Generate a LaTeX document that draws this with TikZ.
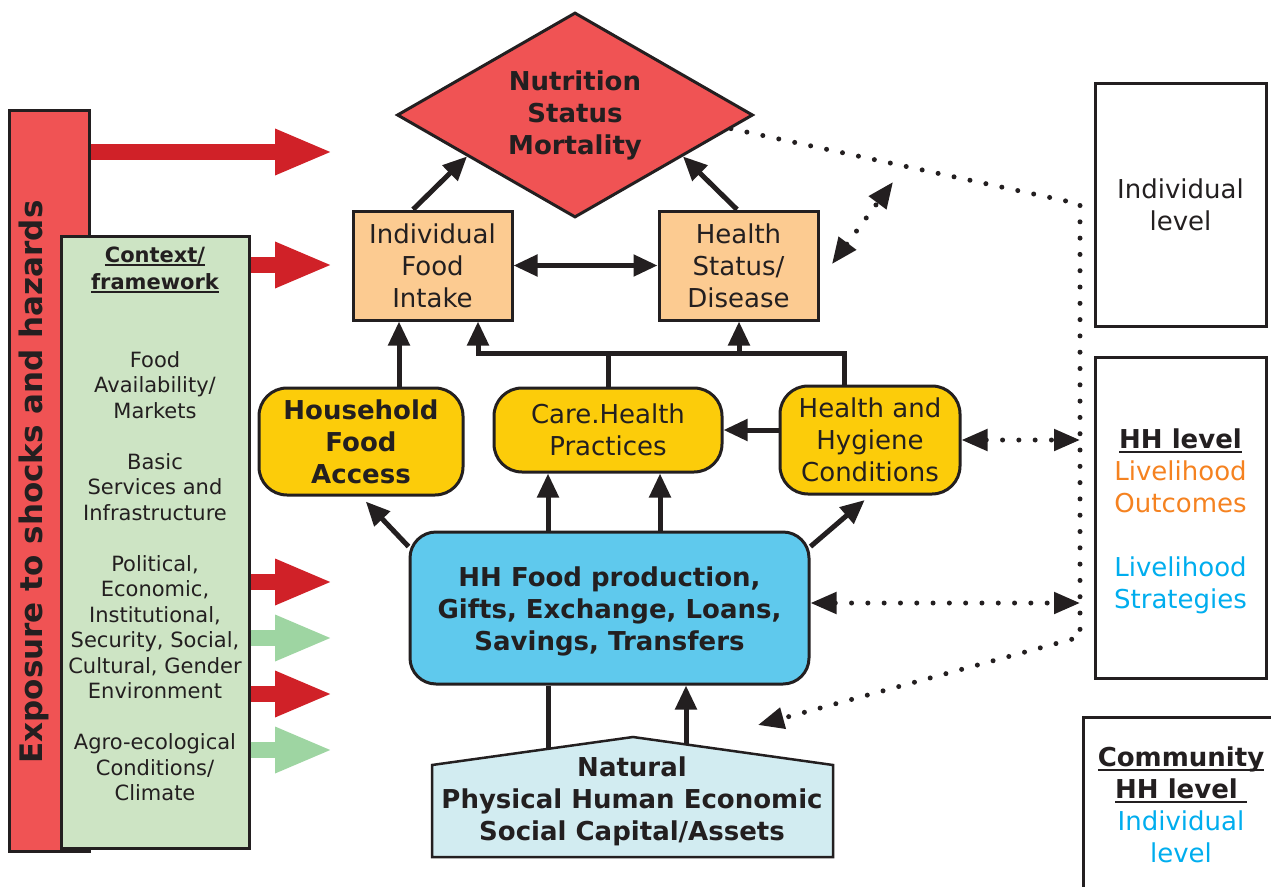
\documentclass[tikz,border=0pt]{standalone}
\usepackage{fontspec}
\setmainfont{DejaVu Sans}
\usetikzlibrary{arrows.meta,shapes.geometric}

\definecolor{ink}{RGB}{35,31,32}
\definecolor{redbox}{RGB}{240,83,84}
\definecolor{redarr}{RGB}{208,33,40}
\definecolor{grnbox}{RGB}{205,228,196}
\definecolor{grnarr}{RGB}{158,213,162}
\definecolor{orng}{RGB}{252,203,145}
\definecolor{yel}{RGB}{252,204,10}
\definecolor{bluebox}{RGB}{95,201,237}
\definecolor{capbox}{RGB}{210,236,241}
\definecolor{txtor}{RGB}{245,130,32}
\definecolor{txtbl}{RGB}{0,173,238}

\newcommand\bigtxt{\fontsize{26}{32}\selectfont}
\newcommand\smalltxt{\fontsize{21}{25.5}\selectfont}
\newcommand\ulinetext[1]{\setbox0=\hbox{#1}\rlap{\rule[-4pt]{\wd0}{2pt}}\box0}

\begin{document}
\begin{tikzpicture}[x=1pt,y=-1pt]

    \tikzset{
      box/.style={
        draw=ink,
        line width=3pt,
        align=center,
        text=ink,
        inner sep=0pt,
        font=\bigtxt,
      },
      yellowbox/.style={box, fill=yel, rounded corners=28pt},
      arr/.style={draw=ink, line width=5pt, -{Triangle[length=24pt,width=21pt]}},
      arrboth/.style={draw=ink, line width=5pt, {Triangle[length=24pt,width=21pt]}-{Triangle[length=24pt,width=21pt]}},
      plain/.style={draw=ink, line width=5pt},
      dotline/.style={draw=ink, line width=5pt, line cap=round, dash pattern=on 0pt off 16.3pt},
      bigarr/.style={line width=16pt, -{Triangle[length=58pt,width=42pt]}},
    }
    \useasboundingbox (0,0) rectangle (1271,886);
    \clip (0,0) rectangle (1271,886);

    % context and shocks
    \node[box, fill=redbox, minimum width=80pt, minimum height=741pt] (expo) at (49,480.5) {};
    \node[rotate=90, text=ink, font=\fontsize{31}{36}\selectfont\bfseries] (expotxt) at (34,482) {Exposure to shocks and hazards};
    \node[box, fill=grnbox, minimum width=188pt, minimum height=612pt] (ctx) at (155,542) {};
    \node[text=ink, align=center, font=\fontsize{21}{27}\selectfont\bfseries] (ctxhead) at (155,270) {\ulinetext{Context/}\\\ulinetext{framework}};
    \node[text=ink, align=center, font=\smalltxt] (ctxlist) at (155,576) {Food\\Availability/\\Markets\\[25.5pt]Basic\\Services and\\Infrastructure\\[25.5pt]Political,\\Economic,\\Institutional,\\Security, Social,\\Cultural, Gender\\Environment\\[25.5pt]Agro-ecological\\Conditions/\\Climate};

    \coordinate (a1) at (333,152);
    \coordinate (a2) at (333,265);
    \coordinate (a3) at (333,582);
    \coordinate (a4) at (333,638);
    \coordinate (a5) at (333,694);
    \coordinate (a6) at (333,750);
    \draw[bigarr, color=redarr] (expo.east |- a1) -- (a1);
    \draw[bigarr, color=redarr] (ctx.east |- a2) -- (a2);
    \draw[bigarr, color=redarr] (ctx.east |- a3) -- (a3);
    \draw[bigarr, color=grnarr] (ctx.east |- a4) -- (a4);
    \draw[bigarr, color=redarr] (ctx.east |- a5) -- (a5);
    \draw[bigarr, color=grnarr] (ctx.east |- a6) -- (a6);

    % outcomes
    \node[diamond, aspect=1.74, draw=ink, line width=3pt, fill=redbox, minimum width=356pt, minimum height=205pt, inner sep=0pt, align=center, text=ink, font=\bigtxt\bfseries] (dia) at (575,115) {Nutrition\\Status\\Mortality};
    \node[box, fill=orng, minimum width=159pt, minimum height=109pt] (ifi) at (432.5,265.5) {Individual\\Food\\Intake};
    \node[box, fill=orng, minimum width=159pt, minimum height=109pt] (hsd) at (738.5,265.5) {Health\\Status/\\Disease};

    \node[yellowbox, minimum width=204pt, minimum height=107pt, font=\bigtxt\bfseries] (hfa) at (361,441.5) {Household\\Food\\Access};
    \node[yellowbox, minimum width=228pt, minimum height=84pt] (care) at (608,430) {Care.Health\\Practices};
    \node[yellowbox, minimum width=180pt, minimum height=108pt] (hhc) at (870,440) {Health and\\Hygiene\\Conditions};

    \node[box, fill=bluebox, rounded corners=26pt, minimum width=399pt, minimum height=152pt] (hhf) at (609.5,608) {};
    \node[text=ink, align=center, font=\bigtxt\bfseries] (hhftxt) at (609.5,611) {HH Food production,\\Gifts, Exchange, Loans,\\Savings, Transfers};

    \draw[draw=ink, line width=2.5pt, fill=capbox] (432,857) -- (432,765) -- (633,737) -- (833,765) -- (833,857) -- cycle;
    \node[text=ink, align=center, font=\bigtxt\bfseries] (cap) at (632,801) {Natural\\Physical Human Economic\\Social Capital/Assets};
    \coordinate (roofL) at (548,749);
    \coordinate (roofR) at (686,744.5);

    % levels
    \node[box, minimum width=171pt, minimum height=243pt] (indlvl) at (1180.5,204.5) {Individual\\level};
    \node[box, minimum width=171pt, minimum height=321pt] (hhlvl) at (1180.5,517.5) {};
    \node[text=ink, align=center, font=\bigtxt] (hhtxt) at (1180.5,521.5) {\textbf{\ulinetext{HH level}}\\\textcolor{txtor}{Livelihood}\\\textcolor{txtor}{Outcomes}\\[32pt]\textcolor{txtbl}{Livelihood}\\\textcolor{txtbl}{Strategies}};
    \draw[draw=ink, line width=3pt] (1083,717) rectangle (1300,920);
    \node[text=ink, align=center, font=\bigtxt] (comm) at (1181,805) {\textbf{\ulinetext{Community}}\\\textbf{\ulinetext{HH level\ }}\\\textcolor{txtbl}{Individual}\\\textcolor{txtbl}{level}};

    % links
    \draw[arr] (ifi.north -| 413,0) -- (dia.201);
    \draw[arr] (hsd.north -| 737,0) -- (dia.339);
    \draw[arrboth] (ifi.east) -- (hsd.west);

    \coordinate (barL) at (478,353);
    \coordinate (barR) at (844,353);
    \coordinate (barM) at (739,353);
    \draw[arr, line join=miter] (hhc.north -| barR) -- (barR) -- (barL) -- (barL |- ifi.south);
    \draw[plain] (care.north) -- (care.north |- barL);
    \draw[arr] (barM) -- (barM |- hsd.south);
    \draw[arr] (hfa.north -| 399,0) -- (ifi.south -| 399,0);
    \draw[arr] (hhc.west |- care.east) -- (care.east);

    \draw[arr, shorten >=7pt] (hhf.163) -- (hfa.south);
    \draw[arr, shorten >=7pt] (hhf.17) -- (hhc.south);
    \draw[arr] (hhf.north -| 548,0) -- (care.south -| 548,0);
    \draw[arr] (hhf.north -| 660,0) -- (care.south -| 660,0);
    \draw[plain] (hhf.south -| roofL) -- (roofL);
    \draw[arr] (roofR) -- (hhf.south -| roofR);

    \coordinate (c1) at (1080,204);
    \coordinate (c2) at (1080,637);
    \coordinate (capT) at (758,725);
    \coordinate (dl0) at (832,264);
    \coordinate (dl1) at (893,182);
    \draw[dotline, -{Triangle[length=26pt,width=21pt]}] (dia.355) -- (c1) -- (c2) -- (capT);
    \draw[dotline, {Triangle[length=26pt,width=21pt]}-{Triangle[length=26pt,width=21pt]}] (dl0) -- (dl1);
    \draw[dotline, {Triangle[length=26pt,width=21pt]}-{Triangle[length=26pt,width=21pt]}] (hhc.east) -- (c1 |- hhc.east);
    \draw[dotline, {Triangle[length=26pt,width=21pt]}-{Triangle[length=26pt,width=21pt]}] (hhf.east |- 0,603) -- (c1 |- 0,603);

\end{tikzpicture}
\end{document}
